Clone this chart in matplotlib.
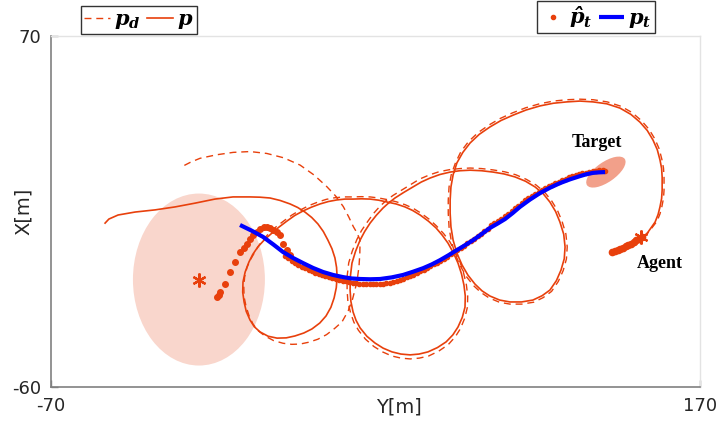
import matplotlib
matplotlib.use('Agg')
import matplotlib.pyplot as plt
from matplotlib.patches import Ellipse
from matplotlib.lines import Line2D

plt.rcParams['axes.unicode_minus'] = False
plt.rcParams['font.family'] = ['DejaVu Sans']
plt.rcParams['mathtext.fontset'] = 'custom'
plt.rcParams['mathtext.bf'] = 'DejaVu Serif:italic:bold'
plt.rcParams['mathtext.rm'] = 'DejaVu Serif:italic:bold'

RED = '#e8400c'
BLUE = '#0000ff'

# agent path p (agent start on the right, end of the tail on the left)
p_xy = [
    (148.6, -5.2), (150.8, -2.6), (153.4, 1.1), (154.5, 3.9), (155.2, 6.7), (155.8, 9.8),
    (156.0, 12.9), (156.0, 17.8), (155.8, 21.0), (155.2, 24.1), (154.2, 27.9), (152.6, 31.5),
    (150.5, 35.0), (147.8, 38.1), (144.4, 41.0), (140.4, 43.3), (135.5, 44.9), (130.4, 45.6),
    (125.6, 45.9), (120.8, 45.6), (115.8, 45.1), (110.8, 44.1), (105.7, 42.6), (100.9, 40.7),
    (96.4, 38.7), (92.3, 36.3), (88.4, 33.6), (85.0, 30.4), (82.3, 26.9), (80.1, 23.0),
    (78.7, 18.6), (77.9, 14.1), (77.6, 9.2), (77.6, 4.4), (77.9, -0.7), (78.7, -5.6),
    (80.1, -10.4), (82.0, -14.8), (84.2, -18.6), (86.8, -21.9), (89.4, -24.4), (92.3, -26.3),
    (95.9, -27.8), (99.7, -28.5), (104.0, -28.5), (108.2, -27.8), (111.6, -26.2), (114.5, -24.1),
    (116.9, -20.6), (118.6, -16.7), (119.8, -12.5), (120.1, -8.1), (119.6, -3.4), (118.2, 1.1),
    (116.6, 5.0), (114.5, 8.5), (112.0, 11.6), (109.0, 14.1), (105.5, 16.2), (101.6, 17.8),
    (97.6, 18.9), (93.5, 19.6), (89.2, 20.1), (85.0, 20.3), (81.2, 20.1), (77.6, 19.6),
    (73.8, 18.7), (70.2, 17.4), (66.9, 15.9), (63.9, 14.1), (60.5, 12.1), (57.2, 10.0),
    (54.9, 8.2), (52.8, 6.3), (50.3, 3.6), (48.0, 0.7), (46.0, -2.4), (44.3, -5.6),
    (42.6, -9.8), (41.3, -14.1), (40.7, -19.1), (40.6, -24.1), (40.9, -28.3), (41.7, -32.2),
    (42.8, -35.3), (44.3, -38.1), (46.8, -41.2), (49.8, -43.7), (52.8, -45.6), (56.1, -47.0),
    (59.4, -47.8), (62.8, -48.1), (66.1, -47.8), (69.4, -47.0), (72.9, -45.4), (76.1, -43.3),
    (78.6, -40.7), (80.5, -37.8), (82.1, -34.2), (83.1, -30.4), (83.2, -26.3), (82.7, -22.2),
    (81.8, -18.1), (80.5, -14.1), (78.8, -10.3), (76.8, -6.7), (74.7, -3.8), (72.4, -1.1),
    (69.6, 1.4), (66.5, 3.7), (63.7, 5.4), (60.9, 6.7), (57.6, 7.8), (54.3, 8.5),
    (51.1, 9.2), (48.0, 9.6), (44.8, 9.7), (41.7, 9.6), (38.7, 9.6), (35.8, 9.3),
    (32.6, 8.7), (29.5, 7.8), (26.3, 6.6), (23.2, 5.2), (20.1, 3.5), (17.3, 1.5),
    (14.4, -0.7), (11.7, -3.0), (8.9, -5.5), (6.5, -8.1), (4.6, -10.9), (3.2, -13.7),
    (1.8, -17.4), (1.0, -21.1), (0.9, -24.9), (1.4, -28.5), (2.2, -32.0), (3.6, -35.2),
    (5.2, -37.7), (7.3, -39.6), (10.3, -41.2), (13.6, -41.9), (17.0, -41.8), (20.2, -41.1),
    (23.5, -40.0), (26.5, -38.5), (29.4, -36.3), (31.7, -33.7), (33.5, -30.5), (34.7, -27.0),
    (35.5, -23.2), (35.8, -19.3), (35.6, -15.7), (35.0, -12.2), (33.9, -8.8), (32.4, -5.6),
    (30.7, -2.4), (28.7, 0.4), (26.4, 2.8), (23.9, 4.8), (21.2, 6.5), (18.4, 7.8),
    (14.7, 9.1), (11.0, 10.0), (7.3, 10.3), (3.6, 10.4), (-2.7, 10.4), (-9.4, 9.6),
    (-16.7, 8.1), (-24.1, 6.7), (-31.5, 5.6), (-38.9, 4.8), (-45.2, 3.7), (-48.6, 2.2),
    (-50.0, 0.7),
]

# desired path p_d
pd_xy = [
    (149.4, -4.6), (151.5, -2.0), (154.1, 1.4), (155.2, 4.1), (155.9, 6.8), (156.5, 9.9),
    (156.7, 12.9), (156.7, 17.8), (156.5, 21.1), (155.9, 24.3), (154.9, 28.2), (153.3, 31.9),
    (151.1, 35.5), (148.3, 38.7), (144.8, 41.7), (140.7, 44.0), (135.7, 45.6), (130.5, 46.4),
    (125.6, 46.6), (120.8, 46.4), (115.8, 45.9), (110.7, 44.9), (105.5, 43.4), (100.6, 41.5),
    (96.0, 39.4), (91.9, 37.0), (87.9, 34.2), (84.4, 30.9), (81.6, 27.2), (79.6, 23.1),
    (78.0, 18.6), (77.2, 14.1), (76.9, 9.2), (76.9, 4.4), (77.2, -0.8), (78.0, -5.8),
    (79.4, -10.7), (81.4, -15.2), (83.6, -19.1), (86.3, -22.5), (89.0, -25.0), (92.0, -27.0),
    (95.8, -28.6), (99.7, -29.3), (104.1, -29.3), (108.5, -28.6), (112.0, -26.9), (115.1, -24.6),
    (117.6, -20.9), (119.4, -16.9), (120.6, -12.6), (120.9, -8.1), (120.4, -3.3), (119.0, 1.3),
    (117.3, 5.4), (115.1, 9.0), (112.5, 12.2), (109.4, 14.8), (105.8, 16.9), (101.9, 18.6),
    (97.8, 19.7), (93.5, 20.4), (89.2, 20.9), (85.0, 21.1), (81.2, 20.9), (77.4, 20.5),
    (73.4, 19.7), (69.8, 18.5), (66.3, 17.0), (63.2, 15.1), (59.8, 13.0), (56.4, 10.9),
    (53.9, 9.0), (51.7, 7.0), (49.2, 4.2), (46.9, 1.0), (44.8, -2.1), (43.1, -5.4),
    (41.4, -9.7), (40.1, -14.0), (39.5, -19.1), (39.5, -24.1), (39.8, -28.5), (40.8, -32.6),
    (42.0, -36.0), (43.7, -39.0), (46.3, -42.3), (49.4, -45.0), (52.6, -47.0), (56.0, -48.5),
    (59.4, -49.3), (62.8, -49.6), (66.2, -49.3), (69.7, -48.5), (73.4, -46.7), (76.9, -44.3),
    (79.5, -41.4), (81.4, -38.4), (83.0, -34.5), (84.0, -30.4), (84.1, -26.3), (83.6, -22.1),
    (82.6, -17.9), (81.3, -13.8), (79.5, -9.9), (77.5, -6.2), (75.2, -3.2), (72.5, -0.3),
    (69.9, 2.1), (66.8, 4.4), (63.9, 6.2), (61.0, 7.5), (57.7, 8.6), (54.4, 9.4),
    (51.2, 10.0), (48.0, 10.4), (44.8, 10.5), (41.7, 10.4), (38.3, 10.4), (35.0, 10.1),
    (31.8, 9.5), (28.7, 8.5), (25.4, 7.2), (22.1, 5.5), (19.1, 3.7), (16.2, 1.6),
    (13.2, -0.7), (10.3, -3.4), (7.8, -6.2), (5.8, -9.3), (4.0, -12.4), (2.5, -15.6),
    (1.6, -19.3), (1.3, -23.0), (1.4, -26.6), (2.1, -30.0), (3.2, -33.5), (4.7, -36.7),
    (6.7, -39.2), (9.1, -41.1), (12.3, -42.8), (15.8, -43.8), (19.0, -44.2), (22.1, -44.1),
    (25.4, -43.4), (28.7, -42.3), (31.9, -40.6), (34.9, -38.3), (37.6, -35.9), (39.9, -31.8),
    (41.5, -27.5), (42.6, -23.2), (43.4, -19.1), (43.9, -15.3), (44.2, -10.6), (44.3, -5.6),
    (43.2, -3.0), (41.8, -0.6), (40.1, 3.0), (38.1, 6.8), (35.2, 10.8), (32.0, 14.2),
    (27.3, 18.5), (22.1, 22.2), (16.0, 24.9), (9.8, 26.5), (3.6, 27.2), (-2.6, 26.9),
    (-8.8, 26.0), (-14.9, 24.7), (-18.5, 23.2), (-21.6, 21.6),
]

# true target path p_t
pt_xy = [
    (-0.1, 0.0), (4.2, -2.1), (8.4, -4.4), (12.2, -7.2), (15.8, -10.0), (19.5, -12.2),
    (23.2, -14.1), (26.9, -15.9), (30.6, -17.4), (34.3, -18.5), (38.0, -19.3), (41.2, -19.8),
    (44.3, -20.0), (48.0, -20.1), (51.7, -20.0), (56.0, -19.4), (60.2, -18.5), (63.9, -17.3),
    (67.6, -16.0), (70.8, -14.6), (73.9, -13.0), (77.0, -11.2), (80.1, -9.3), (83.1, -7.5),
    (86.1, -5.6), (89.2, -3.4), (92.3, -1.1), (95.1, 0.5), (97.9, 2.2), (100.7, 4.4),
    (103.4, 6.7), (107.1, 9.4), (110.8, 11.8), (114.5, 13.8), (118.2, 15.5), (121.9, 16.9),
    (125.6, 18.1), (128.0, 18.8), (130.4, 19.3), (132.7, 19.5), (134.9, 19.6),
]

# estimated target positions: early scattered estimates
est0_x = [-8.6, -8.0, -7.5, -5.6, -3.8, -2.0, -0.1, 1.3, 2.5, 3.6, 4.7, 6.0, 7.3, 8.6, 9.9, 11.0,
          12.1, 13.4, 14.7, 15.8, 17.1, 18.4, 21.0]
est0_y = [-26.7, -26.0, -24.8, -21.9, -17.4, -13.7, -10.0, -8.4, -7.0, -5.3, -3.7, -2.5, -1.5, -0.9,
          -0.7, -1.2, -1.9, -2.7, -3.7, -7.0, -9.2, -11.1, -13.7]
# estimated target positions: band along the true path
est_band = [
    (16.5, -11.6), (17.8, -12.4), (19.0, -13.2), (20.3, -14.0), (21.5, -14.7), (22.8, -15.4),
    (24.0, -16.0), (25.3, -16.6), (26.5, -17.1), (27.8, -17.6), (29.0, -18.1), (30.3, -18.6),
    (31.5, -19.0), (32.8, -19.4), (34.0, -19.8), (35.3, -20.1), (36.5, -20.4), (37.8, -20.7),
    (39.0, -20.9), (40.3, -21.2), (41.5, -21.4), (42.8, -21.6), (44.0, -21.7), (45.3, -21.9),
    (46.5, -22.0), (47.8, -22.0), (49.0, -22.0), (50.3, -22.0), (51.5, -21.9), (52.8, -21.8),
    (54.0, -21.6), (55.3, -21.3), (56.5, -21.0), (57.8, -20.7), (59.0, -20.3), (60.3, -19.9),
    (61.5, -19.4), (62.8, -18.9), (64.0, -18.4), (65.3, -17.8), (66.5, -17.2), (67.8, -16.6),
    (69.0, -16.0), (70.3, -15.3), (71.5, -14.6), (72.8, -13.9), (74.0, -13.2), (75.3, -12.5),
    (76.5, -11.7), (77.8, -10.9), (79.0, -10.1), (80.3, -9.3), (81.5, -8.5), (82.8, -7.6),
    (84.0, -6.8), (85.3, -5.9), (86.5, -5.0), (87.8, -4.1), (89.0, -3.2), (90.3, -2.2),
    (91.5, -1.3), (92.8, -0.1), (94.0, 0.8), (95.3, 1.6), (96.5, 2.4), (97.8, 3.2),
    (99.0, 4.2), (100.3, 5.2), (101.5, 6.2), (102.8, 7.2), (104.0, 8.2), (105.3, 9.1),
    (106.5, 10.0), (107.8, 10.8), (109.0, 11.6), (110.3, 12.4), (111.5, 13.1), (112.8, 13.8),
    (114.0, 14.4), (115.3, 15.0), (116.5, 15.6), (117.8, 16.1), (119.0, 16.6), (120.3, 17.1),
    (121.5, 17.6), (122.8, 18.0), (124.0, 18.4), (125.3, 18.8), (126.5, 19.1), (127.8, 19.4),
    (129.0, 19.7), (130.3, 19.9), (131.5, 20.1), (132.8, 20.2), (134.0, 20.2), (135.0, 20.1),
]

# streak near the agent start
agent_x = [137.5, 138.5, 139.5, 140.5, 141.5, 142.5, 143.5, 144.5, 145.5, 146.5, 147.5, 148.5]
agent_y = [-10.0, -9.7, -9.3, -8.9, -8.4, -7.9, -7.4, -6.9, -6.3, -5.7, -5.1, -4.6]

start_est = (-15.3, -20.2)
agent_start = (148.2, -4.4)
target_end = (135.2, 19.6)

fig = plt.figure(figsize=(7.19, 4.25), dpi=100)
ax = fig.add_axes([51 / 719, 38 / 425, 649 / 719, 351 / 425])

ax.add_patch(Ellipse(start_est, 48.8, 63.7, angle=0, facecolor='#f9d6cc', edgecolor='none', zorder=0))
ax.add_patch(Ellipse(target_end, 17, 7.4, angle=35, facecolor='#f2a08a', edgecolor='none', zorder=1))

h_pd, = ax.plot([q[0] for q in pd_xy], [q[1] for q in pd_xy], color=RED, lw=1.0,
                linestyle=(0, (5, 3.5)), zorder=2)
h_p, = ax.plot([q[0] for q in p_xy], [q[1] for q in p_xy], color=RED, lw=1.2, zorder=2)
ax.plot(est0_x, est0_y, '.', color=RED, ms=8, zorder=3)
ax.plot([q[0] for q in est_band], [q[1] for q in est_band], '.', color=RED, ms=6, zorder=3)
ax.plot(agent_x, agent_y, '.', color=RED, ms=9, zorder=3)
h_pt, = ax.plot([q[0] for q in pt_xy], [q[1] for q in pt_xy], color=BLUE, lw=3,
                solid_capstyle='butt', solid_joinstyle='round', zorder=4)

ax.plot(*start_est, marker=(6, 2, 0), color=RED, ms=10, mew=1.6, zorder=5)
ax.plot(*agent_start, marker=(6, 2, 0), color=RED, ms=10, mew=1.6, zorder=5)

ax.text(131.9, 30.4, 'Target', family='Liberation Serif', weight='bold', fontsize=13,
        ha='center', va='center')
ax.text(155.2, -14.1, 'Agent', family='Liberation Serif', weight='bold', fontsize=13,
        ha='center', va='center')

ax.set_xlim(-70, 170)
ax.set_ylim(-60, 70)
ax.set_xticks([-70, 170])
ax.set_yticks([-60, 70])
ax.tick_params(direction='in', length=5, width=1, colors='#808080', labelcolor='#262626',
               labelsize=13, pad=7)
for s in ['left', 'bottom']:
    ax.spines[s].set_color('#808080')
    ax.spines[s].set_linewidth(1.2)
for s in ['top', 'right']:
    ax.spines[s].set_color('#e3e3e3')
    ax.spines[s].set_linewidth(1.0)

ax.set_xlabel('Y[m]', fontsize=14, color='#262626')
ax.xaxis.set_label_coords(0.536, -0.03)
ax.set_ylabel('X[m]', fontsize=14, color='#262626')
ax.yaxis.set_label_coords(-0.028, 0.5)

leg_kw = dict(ncol=2, frameon=True, fancybox=False, framealpha=1, edgecolor='#333333',
              fontsize=15, handletextpad=0.2, columnspacing=0.3, borderpad=0.15,
              borderaxespad=0, bbox_transform=fig.transFigure, loc='lower left')
leg1 = ax.legend([h_pd, h_p], [r'$\mathbf{p_d}$', r'$\mathbf{p}$'], handlelength=1.25,
                 bbox_to_anchor=(81 / 719, 391 / 425), **leg_kw)
ax.add_artist(leg1)
est_handle = Line2D([], [], marker='.', color=RED, linestyle='none', ms=6)
leg2 = ax.legend([est_handle, h_pt], [r'$\hat{\mathbf{p}}_{\mathbf{t}}$', r'$\mathbf{p_t}$'],
                 handlelength=1.2, bbox_to_anchor=(537 / 719, 392 / 425), **leg_kw)
for leg in (leg1, leg2):
    leg.get_frame().set_linewidth(1.0)

fig.savefig('out.png', dpi=100)
